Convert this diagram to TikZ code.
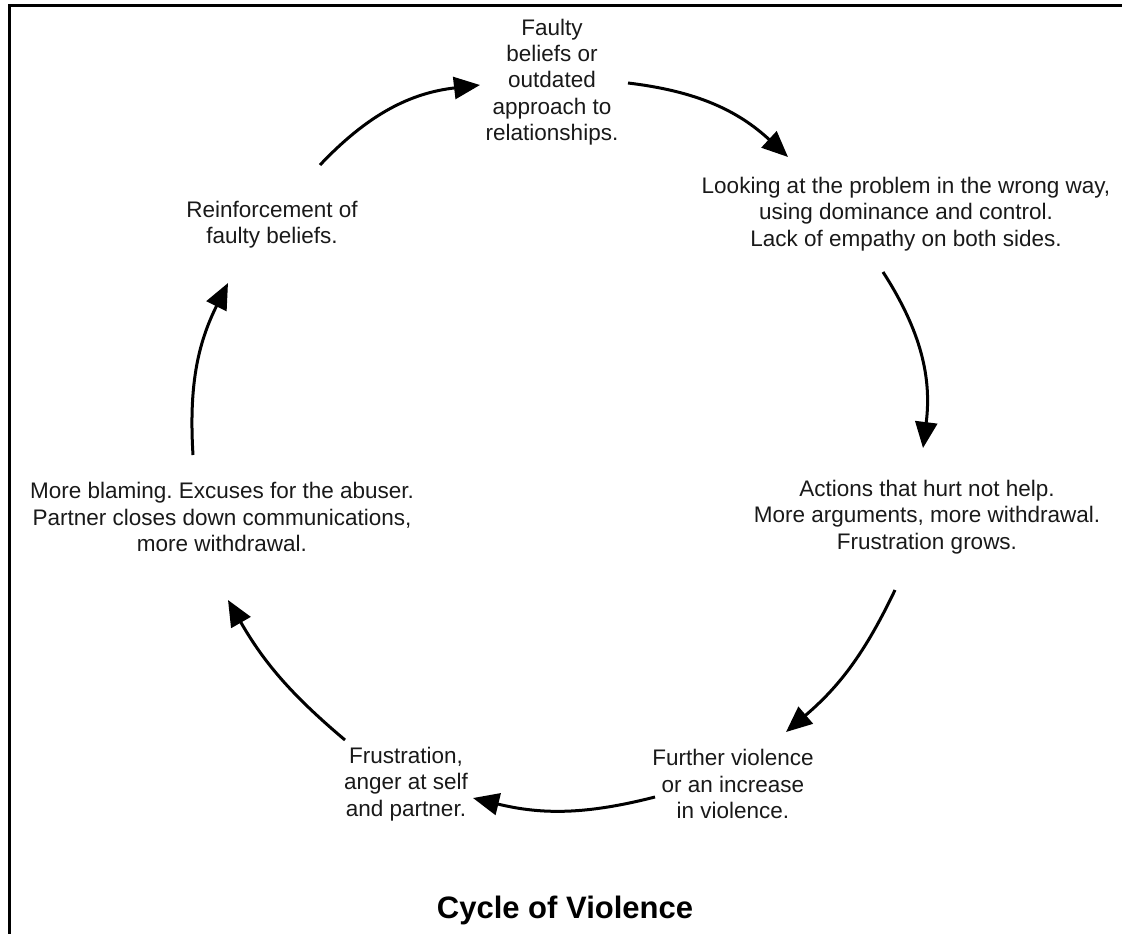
\documentclass[tikz,border=0pt]{standalone}
\usepackage{fontspec}
\setmainfont{Liberation Sans}
\usetikzlibrary{arrows.meta}
\frenchspacing
\begin{document}
\begin{tikzpicture}[x=1pt,y=1pt,
  lbl/.style={align=center, font=\fontsize{22.5}{26.3}\selectfont, inner sep=0pt, text=black!90},
  cyc/.style={line width=3pt, -{Triangle[length=26pt,width=22pt]}},
  ]
\useasboundingbox (0,0) rectangle (1122,-934);
\draw[line width=3pt] (9,-934) -- (9,-6) -- (1122,-6);

\node[lbl] (n1) at (552,-82) {Faulty\\beliefs or\\outdated\\approach to\\relationships.};
\node[lbl] (n2) at (906,-214) {Looking at the problem in the wrong way,\\using dominance and control.\\Lack of empathy on both sides.};
\node[lbl] (n3) at (927,-517) {Actions that hurt not help.\\More arguments, more withdrawal.\\Frustration grows.};
\node[lbl] (n4) at (733,-784) {Further violence\\or an increase\\in violence.};
\node[lbl] (n5) at (406,-784) {Frustration,\\anger at self\\and partner.};
\node[lbl] (n6) at (222,-517) {More blaming. Excuses for the abuser.\\Partner closes down communications,\\more withdrawal.};
\node[lbl] (n7) at (272,-225) {Reinforcement of\\faulty beliefs.};
\node[font=\fontsize{31}{36}\selectfont\bfseries, inner sep=0pt] (title) at (565,-910) {Cycle of Violence};

\coordinate (a1s) at (320,-165); \coordinate (a1e) at (480,-85);
\coordinate (a2s) at (628,-83);  \coordinate (a2e) at (788,-157);
\coordinate (a3s) at (883,-272); \coordinate (a3e) at (923,-448);
\coordinate (a4s) at (895,-590); \coordinate (a4e) at (786,-732);
\coordinate (a5s) at (655,-797); \coordinate (a5e) at (473,-798);
\coordinate (a6s) at (345,-740); \coordinate (a6e) at (228,-600);
\coordinate (a7s) at (193,-455); \coordinate (a7e) at (228,-283);

\draw[cyc] (a1s) to[bend left=20] (a1e);
\draw[cyc] (a2s) to[bend left=18] (a2e);
\draw[cyc] (a3s) to[bend left=20] (a3e);
\draw[cyc] (a4s) to[bend left=12] (a4e);
\draw[cyc] (a5s) to[bend left=14] (a5e);
\draw[cyc] (a6s) to[bend left=10] (a6e);
\draw[cyc] (a7s) to[bend left=15] (a7e);
\end{tikzpicture}
\end{document}
